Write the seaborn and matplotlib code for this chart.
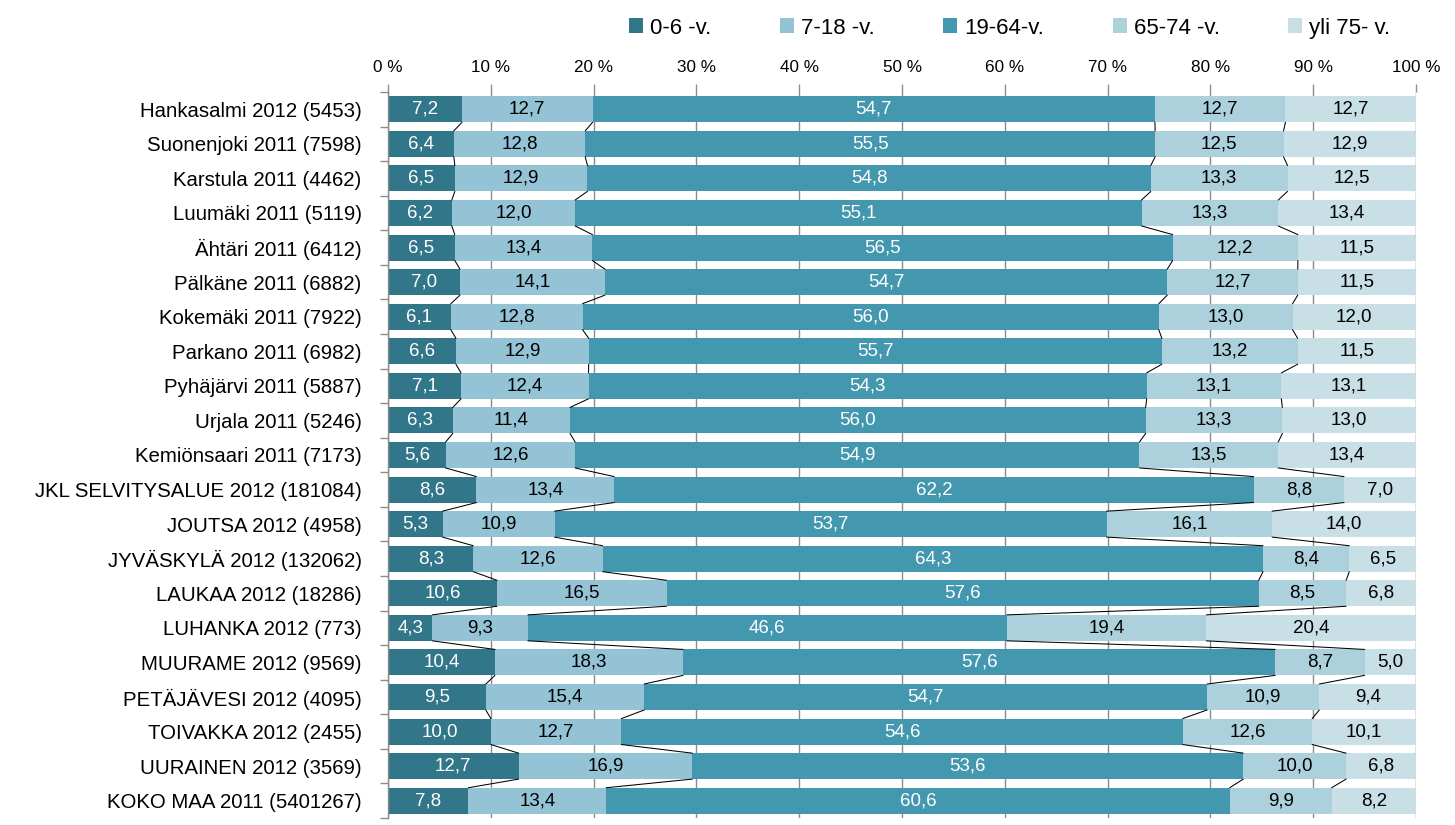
import numpy as np
import pandas as pd
import matplotlib
matplotlib.use("Agg")
import matplotlib.pyplot as plt
import seaborn as sns
from matplotlib.patches import Patch
from matplotlib.ticker import FixedLocator

categories = [
    "Hankasalmi 2012 (5453)", "Suonenjoki 2011 (7598)", "Karstula 2011 (4462)",
    "Luumäki 2011 (5119)", "Ähtäri 2011 (6412)", "Pälkäne 2011 (6882)",
    "Kokemäki 2011 (7922)", "Parkano 2011 (6982)", "Pyhäjärvi 2011 (5887)",
    "Urjala 2011 (5246)", "Kemiönsaari 2011 (7173)", "JKL SELVITYSALUE 2012 (181084)",
    "JOUTSA 2012 (4958)", "JYVÄSKYLÄ 2012 (132062)", "LAUKAA 2012 (18286)",
    "LUHANKA 2012 (773)", "MUURAME 2012 (9569)", "PETÄJÄVESI 2012 (4095)",
    "TOIVAKKA 2012 (2455)", "UURAINEN 2012 (3569)", "KOKO MAA 2011 (5401267)",
]
series_names = ["0-6 -v.", "7-18 -v.", "19-64-v.", "65-74 -v.", "yli 75- v."]
age_0_6 = [7.2, 6.4, 6.5, 6.2, 6.5, 7.0, 6.1, 6.6, 7.1, 6.3, 5.6, 8.6, 5.3, 8.3, 10.6, 4.3, 10.4, 9.5, 10.0, 12.7, 7.8]
age_7_18 = [12.7, 12.8, 12.9, 12.0, 13.4, 14.1, 12.8, 12.9, 12.4, 11.4, 12.6, 13.4, 10.9, 12.6, 16.5, 9.3, 18.3, 15.4, 12.7, 16.9, 13.4]
age_19_64 = [54.7, 55.5, 54.8, 55.1, 56.5, 54.7, 56.0, 55.7, 54.3, 56.0, 54.9, 62.2, 53.7, 64.3, 57.6, 46.6, 57.6, 54.7, 54.6, 53.6, 60.6]
age_65_74 = [12.7, 12.5, 13.3, 13.3, 12.2, 12.7, 13.0, 13.2, 13.1, 13.3, 13.5, 8.8, 16.1, 8.4, 8.5, 19.4, 8.7, 10.9, 12.6, 10.0, 9.9]
age_75 = [12.7, 12.9, 12.5, 13.4, 11.5, 11.5, 12.0, 11.5, 13.1, 13.0, 13.4, 7.0, 14.0, 6.5, 6.8, 20.4, 5.0, 9.4, 10.1, 6.8, 8.2]
x_ticks = [0, 10, 20, 30, 40, 50, 60, 70, 80, 90, 100]

colors = ["#327689", "#93C3D4", "#4398AF", "#ADD1DC", "#C8DFE6"]
label_colors = ["white", "black", "white", "black", "black"]

raw = pd.DataFrame(
    np.column_stack([age_0_6, age_7_18, age_19_64, age_65_74, age_75]),
    columns=series_names, index=categories)
pct = raw.div(raw.sum(axis=1), axis=0) * 100
cum = pct.cumsum(axis=1)
left = cum - pct

sns.set_theme(style="white")
plt.rcParams["font.family"] = ["Liberation Sans", "DejaVu Sans"]
plt.rcParams["text.color"] = "black"
plt.rcParams["xtick.labelcolor"] = "black"
plt.rcParams["ytick.labelcolor"] = "black"

fig = plt.figure(figsize=(14.55, 8.25), dpi=100)
ax = fig.add_axes([0.2667, 0.0085, 0.7065, 0.880])

bar_h = 0.75
df = cum.reset_index().rename(columns={"index": "cat"})
for k in range(len(series_names) - 1, -1, -1):
    sns.barplot(data=df, x=series_names[k], y="cat", orient="h", color=colors[k],
                width=bar_h, saturation=1, ax=ax, zorder=2, linewidth=0)

n = len(categories)
# series lines
for k in range(len(series_names)):
    vals = cum.iloc[:, k].values
    for i in range(n - 1):
        ax.plot([vals[i], vals[i + 1]], [i + bar_h / 2, i + 1 - bar_h / 2],
                color="black", lw=0.75, zorder=3)

# data labels
for i in range(n):
    for k in range(len(series_names)):
        xc = left.iloc[i, k] + pct.iloc[i, k] / 2
        v = raw.iloc[i, k]
        ax.text(xc, i, f"{v:.1f}".replace(".", ","), ha="center", va="center",
                fontsize=13.5, color=label_colors[k], zorder=4)

ax.set_xlim(0, 100)
ax.set_ylim(n - 0.5, -0.5)
ax.set_xlabel("")
ax.set_ylabel("")
ax.xaxis.tick_top()
ax.set_xticks(x_ticks)
ax.set_xticklabels([f"{t} %" for t in x_ticks], fontsize=12.3)
ax.tick_params(axis="x", which="major", top=True, length=6, width=1, color="#8c8c8c", pad=6)
ax.set_yticks(range(n))
ax.set_yticklabels(categories, fontsize=14.7)
ax.tick_params(axis="y", which="major", length=0, pad=19)
ax.yaxis.set_minor_locator(FixedLocator(np.arange(-0.5, n, 1.0)))
ax.tick_params(axis="y", which="minor", left=True, length=6, width=1, color="#8c8c8c")

ax.grid(axis="x", color="#8c8c8c", lw=1, zorder=0)
ax.grid(axis="y", visible=False)
ax.set_axisbelow(True)
for s in ["right", "bottom", "top"]:
    ax.spines[s].set_visible(False)
ax.spines["left"].set_color("#8c8c8c")
ax.spines["left"].set_linewidth(1)

handles = [Patch(facecolor=c, edgecolor="none") for c in colors]
fig.legend(handles, series_names, loc="center", bbox_to_anchor=(0.694, 0.966), ncol=5,
           frameon=False, fontsize=16, handlelength=0.63, handleheight=0.63,
           handletextpad=0.3, columnspacing=3.1, borderaxespad=0, borderpad=0)

fig.savefig("out.png", dpi=100)
